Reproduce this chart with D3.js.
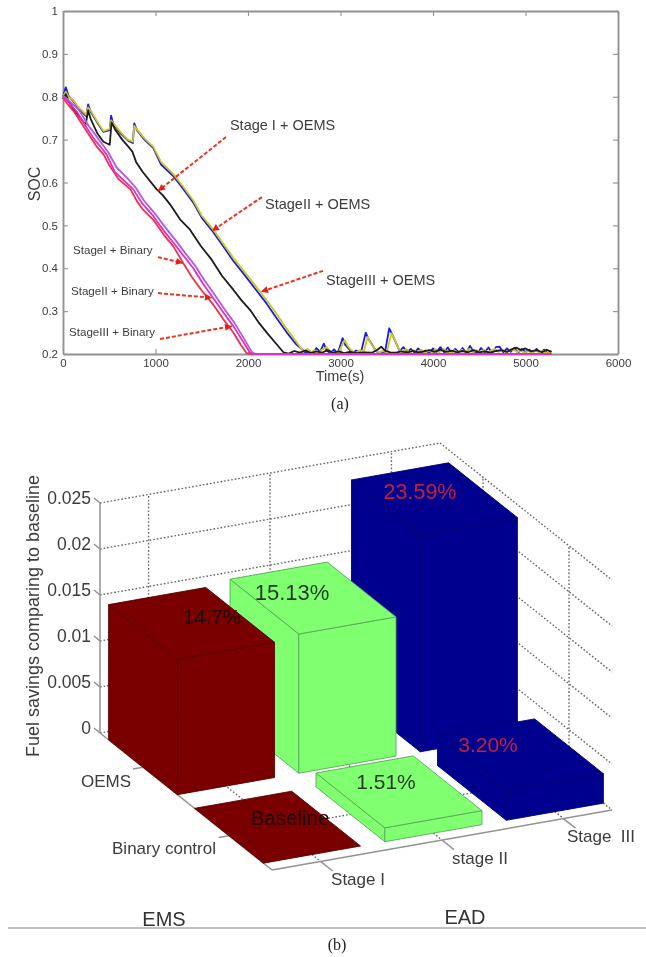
<!DOCTYPE html>
<html>
<head>
<meta charset="utf-8">
<script src="https://cdn.jsdelivr.net/npm/d3@7"></script>
<style>
  html, body { margin: 0; padding: 0; background: #fff; }
  svg { display: block; filter: blur(0.6px); }
  text { font-family: "Liberation Sans", Arial, sans-serif; fill: #3c3c3c; }
  .serif { font-family: "Liberation Serif", serif; fill: #222; }
</style>
</head>
<body>
<svg id="chart" width="646" height="957"></svg>
<script>
// panel (a): SOC against time, [seconds, soc]
const xTicks = [0, 1000, 2000, 3000, 4000, 5000, 6000];
const yTicks = [0.2, 0.3, 0.4, 0.5, 0.6, 0.7, 0.8, 0.9, 1];

const oemsStage1 = [[0,.80],[30,.822],[60,.802],[110,.79],[170,.772],[250,.755],[272,.782],[300,.765],[370,.74],[437,.718],[505,.722],[520,.756],[545,.735],[620,.715],[700,.698],[755,.692],[770,.738],[800,.722],[880,.70],[977,.68],[1060,.642],[1192,.615],[1300,.585],[1409,.553],[1499,.518],[1625,.484],[1730,.452],[1838,.418],[1960,.385],[2092,.348],[2200,.318],[2308,.284],[2420,.25],[2524,.222],[2580,.212],[2620,.203],[2660,.208],[2700,.202],[2740,.214],[2780,.205],[2820,.224],[2850,.208],[2890,.202],[2930,.211],[2970,.201],[3023,.237],[3050,.222],[3090,.212],[3130,.203],[3170,.208],[3220,.202],[3273,.25],[3300,.236],[3340,.222],[3380,.208],[3420,.201],[3480,.203],[3527,.26],[3560,.245],[3600,.226],[3640,.207],[3680,.216],[3720,.204],[3760,.212],[3800,.203],[3840,.213],[3880,.203],[3920,.208],[3960,.202],[4000,.213],[4040,.205],[4080,.216],[4120,.204],[4160,.215],[4200,.203],[4240,.212],[4280,.204],[4320,.214],[4360,.203],[4400,.219],[4440,.205],[4480,.202],[4520,.214],[4560,.204],[4600,.215],[4640,.202],[4680,.216],[4720,.217],[4760,.204],[4800,.213],[4840,.205],[4880,.214],[4920,.203],[4960,.212],[5000,.204],[5040,.21],[5080,.203],[5120,.212],[5160,.203],[5200,.21],[5240,.202],[5280,.207]];
const oemsStage2 = [[0,.80],[30,.812],[60,.80],[110,.792],[170,.775],[250,.758],[272,.775],[300,.768],[370,.742],[437,.72],[505,.725],[520,.745],[545,.738],[620,.718],[700,.70],[755,.695],[770,.732],[800,.724],[880,.703],[977,.683],[1060,.648],[1192,.62],[1300,.59],[1409,.558],[1499,.523],[1625,.49],[1730,.458],[1838,.425],[1960,.392],[2092,.356],[2200,.326],[2308,.294],[2420,.258],[2524,.228],[2600,.206],[2640,.212],[2680,.204],[2720,.209],[2760,.202],[2800,.21],[2850,.216],[2890,.206],[2930,.203],[2980,.205],[3045,.232],[3080,.218],[3120,.208],[3160,.202],[3210,.209],[3250,.204],[3295,.24],[3330,.224],[3370,.212],[3410,.204],[3450,.207],[3500,.204],[3550,.248],[3590,.232],[3630,.212],[3670,.204],[3710,.212],[3750,.203],[3790,.209],[3830,.204],[3870,.21],[3910,.202],[3950,.208],[3990,.204],[4030,.211],[4070,.204],[4110,.212],[4150,.206],[4190,.202],[4230,.209],[4270,.203],[4310,.21],[4350,.205],[4390,.212],[4430,.203],[4470,.209],[4510,.204],[4550,.21],[4590,.203],[4630,.208],[4670,.212],[4710,.205],[4750,.21],[4790,.203],[4830,.208],[4870,.211],[4910,.204],[4950,.209],[4990,.203],[5030,.207],[5070,.202],[5110,.208],[5150,.203],[5190,.207],[5230,.202],[5280,.204]];
const oemsStage3 = [[0,.795],[30,.806],[60,.79],[110,.772],[170,.755],[245,.735],[272,.768],[300,.748],[370,.715],[437,.695],[505,.688],[525,.74],[560,.725],[640,.7],[720,.68],[750,.672],[790,.648],[860,.625],[1013,.584],[1080,.57],[1157,.549],[1265,.514],[1373,.49],[1490,.452],[1607,.42],[1720,.382],[1841,.35],[1930,.325],[2022,.303],[2110,.275],[2203,.25],[2300,.225],[2383,.204],[2440,.201],[2500,.207],[2560,.203],[2620,.208],[2680,.202],[2740,.206],[2800,.203],[2860,.209],[2920,.203],[2980,.206],[3040,.202],[3100,.205],[3180,.202],[3260,.204],[3340,.203],[3400,.21],[3440,.217],[3480,.208],[3540,.204],[3600,.203],[3660,.206],[3720,.203],[3780,.207],[3840,.204],[3900,.206],[3960,.209],[4020,.205],[4080,.21],[4140,.205],[4200,.208],[4260,.204],[4320,.207],[4380,.204],[4440,.209],[4500,.204],[4560,.206],[4620,.203],[4680,.207],[4740,.209],[4800,.205],[4860,.212],[4900,.215],[4950,.209],[5000,.213],[5060,.206],[5120,.209],[5180,.204],[5230,.21],[5280,.205]];
const binaryStage1 = [[0,.797],[60,.78],[120,.765],[240,.725],[300,.705],[360,.685],[440,.665],[500,.64],[600,.608],[730,.584],[800,.556],[868,.536],[976,.513],[1090,.478],[1193,.451],[1300,.412],[1391,.38],[1500,.348],[1625,.315],[1730,.282],[1841,.25],[1920,.222],[1985,.202],[2020,.2],[5280,.2]];
const binaryStage2 = [[0,.80],[70,.785],[150,.765],[258,.727],[340,.70],[400,.685],[472,.665],[560,.625],[680,.60],[760,.584],[860,.55],[976,.522],[1012,.51],[1110,.482],[1193,.46],[1300,.43],[1409,.40],[1510,.365],[1625,.33],[1730,.298],[1841,.265],[1950,.228],[2022,.203],[2060,.2],[5280,.2]];
const binaryStage3 = [[0,.803],[70,.79],[170,.77],[275,.733],[355,.71],[415,.692],[490,.67],[580,.635],[695,.61],[780,.59],[875,.558],[992,.528],[1030,.517],[1125,.49],[1208,.468],[1315,.437],[1422,.408],[1525,.373],[1640,.338],[1745,.305],[1855,.272],[1965,.233],[2040,.205],[2075,.2],[5280,.2]];

// panel (b): fuel savings, one value per stage for each control row
const stages = ["Stage I", "stage II", "Stage  III"];
const controls = ["OEMS", "Binary control"];
const zTicks = [0, 0.005, 0.01, 0.015, 0.02, 0.025];
const oemsSavings = [0.0147, 0.01513, 0.02359];
const binarySavings = [0, 0.00151, 0.0032];
const oemsLabels = ["14.7%", "15.13%", "23.59%"];
const binaryLabels = ["Baseline", "1.51%", "3.20%"];

const svg = d3.select("#chart");
const gray = "#929292";

// ---------- panel (a) ----------
const x = d3.scaleLinear().domain([0, 6000]).range([63, 618]);
const y = d3.scaleLinear().domain([0.2, 1]).range([354, 11]);

const topAx = svg.append("g");
const styleAxis = g => {
    g.selectAll("path").attr("stroke", gray).attr("stroke-width", 1.9);
    g.selectAll("line").attr("stroke", gray).attr("stroke-width", 1.1);
    g.selectAll("text").attr("font-size", 11.5).attr("fill", "#3c3c3c").style("font-family", "'Liberation Sans'");
};
topAx.append("g").attr("transform", "translate(0,354)")
    .call(d3.axisBottom(x).tickValues(xTicks).tickSizeInner(-5).tickSizeOuter(0).tickPadding(5).tickFormat(d3.format("d")))
    .call(styleAxis);
topAx.append("g").attr("transform", "translate(63,0)")
    .call(d3.axisLeft(y).tickValues(yTicks).tickSizeInner(-5).tickSizeOuter(0).tickPadding(5).tickFormat(d3.format("~g")))
    .call(styleAxis);
topAx.append("g").attr("transform", "translate(0,11)")
    .call(d3.axisTop(x).tickValues(xTicks).tickSizeInner(-5).tickSizeOuter(0).tickFormat(""))
    .call(styleAxis);
topAx.append("g").attr("transform", "translate(618,0)")
    .call(d3.axisRight(y).tickValues(yTicks).tickSizeInner(-5).tickSizeOuter(0).tickFormat(""))
    .call(styleAxis);

const socLine = d3.line().x(d => x(d[0])).y(d => y(d[1]));
const socSeries = [
    { data: oemsStage1, color: "#1a1ae6" },
    { data: oemsStage2, color: "#c8c81e" },
    { data: oemsStage3, color: "#1c1c1c" },
    { data: binaryStage1, color: "#f0304a" },
    { data: binaryStage3, color: "#b45ae0" },
    { data: binaryStage2, color: "#e030c8" }
];
svg.append("g").selectAll("path").data(socSeries).enter().append("path")
    .attr("d", d => socLine(d.data))
    .attr("fill", "none")
    .attr("stroke", d => d.color)
    .attr("stroke-width", 1.8)
    .attr("stroke-linejoin", "round");

// callouts, anchored in data units
const callouts = [
    { text: "Stage I + OEMS", size: 14.5, at: [1805, .734], from: [1762, .706], to: [1027, .580] },
    { text: "StageII + OEMS", size: 14.5, at: [2184, .55], from: [2151, .566], to: [1611, .487] },
    { text: "StageIII + OEMS", size: 14.5, at: [2843, .373], from: [2811, .394], to: [2141, .345] },
    { text: "StageI + Binary", size: 11.6, at: [108, .443], from: [1027, .426], to: [1297, .412] },
    { text: "StageII + Binary", size: 11.6, at: [86, .347], from: [1027, .342], to: [1611, .331] },
    { text: "StageIII + Binary", size: 11.6, at: [65, .251], from: [1049, .235], to: [1827, .265] }
];
const notes = svg.append("g");
notes.selectAll("text").data(callouts).enter().append("text")
    .attr("x", d => x(d.at[0])).attr("y", d => y(d.at[1])).attr("dy", ".35em")
    .attr("font-size", d => d.size)
    .text(d => d.text);
notes.selectAll("line").data(callouts).enter().append("line")
    .attr("x1", d => x(d.from[0])).attr("y1", d => y(d.from[1]))
    .attr("x2", d => x(d.to[0])).attr("y2", d => y(d.to[1]))
    .attr("stroke", "#ee3322").attr("stroke-width", 2).attr("stroke-dasharray", "4,2");
notes.selectAll("path").data(callouts).enter().append("path")
    .attr("d", "M0,0L-7,-3.5L-7,3.5Z")
    .attr("fill", "#e0201a")
    .attr("transform", d => {
        const ang = Math.atan2(y(d.to[1]) - y(d.from[1]), x(d.to[0]) - x(d.from[0])) * 180 / Math.PI;
        return "translate(" + x(d.to[0]) + "," + y(d.to[1]) + ") rotate(" + ang + ")";
    });

svg.append("text").attr("transform", "translate(40,184) rotate(-90)")
    .attr("text-anchor", "middle").attr("font-size", 16).text("SOC");
svg.append("text").attr("x", 340).attr("y", 381).attr("text-anchor", "middle").attr("font-size", 14.5).text("Time(s)");
svg.append("text").attr("class", "serif").attr("x", 340).attr("y", 409).attr("text-anchor", "middle").attr("font-size", 16).text("(a)");

// ---------- panel (b): bars on an oblique projection ----------
const stageBand = d3.scaleBand().domain(stages).range([0, 1]).paddingInner(0.2);
const rowBand = d3.scaleBand().domain(controls).range([0.05, 0.95]).paddingInner(0.2);
const zHeight = d3.scaleLinear().domain([0, 0.025]).range([0, 230]);
const stageX = d3.scaleLinear().domain([0, 1]).range([0, 340]);
const stageY = d3.scaleLinear().domain([0, 1]).range([0, -60]);
const rowX = d3.scaleLinear().domain([0, 1]).range([0, 172]);
const rowY = d3.scaleLinear().domain([0, 1]).range([0, 137]);
const project = (u, v, z) => [100 + stageX(u) + rowX(v), 733 + stageY(u) + rowY(v) - zHeight(z)];
const stageMid = s => stageBand(s) + stageBand.bandwidth() / 2;
const rowMid = r => rowBand(r) + rowBand.bandwidth() / 2;

const grid = svg.append("g").attr("fill", "none").attr("stroke", "#666")
    .attr("stroke-width", 1.4).attr("stroke-dasharray", "1.6,2");
const seg = (g, a, b) => g.append("line").attr("x1", a[0]).attr("y1", a[1]).attr("x2", b[0]).attr("y2", b[1]);
zTicks.forEach(z => {
    seg(grid, project(0, 0, z), project(1, 0, z));
    seg(grid, project(1, 0, z), project(1, 1, z));
});
stages.forEach(s => {
    seg(grid, project(stageMid(s), 0, 0), project(stageMid(s), 0, 0.025));
    seg(grid, project(stageMid(s), 0, 0), project(stageMid(s), 1, 0));
});
controls.forEach(r => {
    seg(grid, project(1, rowMid(r), 0), project(1, rowMid(r), 0.025));
    seg(grid, project(0, rowMid(r), 0), project(1, rowMid(r), 0));
});

// solid box edges and ticks
const box = svg.append("g").attr("stroke", gray).attr("stroke-width", 1.5).attr("fill", "none");
seg(box, project(0, 0, 0), project(0, 0, 0.025));
seg(box, project(0, 0, 0), project(0, 1, 0));
seg(box, project(0, 1, 0), project(1, 1, 0));
zTicks.forEach(z => {
    const p = project(0, 0, z);
    seg(box, [p[0] - 6, p[1] - 5], p);
});
stages.forEach(s => seg(box, project(stageMid(s), 1, 0), project(stageMid(s), 1.07, 0)));
controls.forEach(r => seg(box, project(0, rowMid(r), 0), project(-0.03, rowMid(r), 0)));

// back to front: far row first, and within a row the far stage first
const stageColors = ["#7a0000", "#80ff70", "#00008f"];
const stageEdges = ["#560000", "#57a957", "#000070"];
const cells = [];
[oemsSavings, binarySavings].forEach((vals, r) => {
    [2, 1, 0].forEach(i => cells.push({ stage: stages[i], row: controls[r], value: vals[i], fill: stageColors[i], edge: stageEdges[i] }));
});
const polygon = pts => "M" + pts.map(p => p.join(",")).join("L") + "Z";
const bars = svg.append("g").attr("stroke-linejoin", "round");
cells.forEach(c => {
    const u0 = stageBand(c.stage), u1 = u0 + stageBand.bandwidth();
    const v0 = rowBand(c.row), v1 = v0 + rowBand.bandwidth();
    const faces = c.value > 0 ? [
        [project(u0, v0, 0), project(u0, v1, 0), project(u0, v1, c.value), project(u0, v0, c.value)],
        [project(u0, v1, 0), project(u1, v1, 0), project(u1, v1, c.value), project(u0, v1, c.value)],
        [project(u0, v0, c.value), project(u1, v0, c.value), project(u1, v1, c.value), project(u0, v1, c.value)]
    ] : [[project(u0, v0, 0), project(u1, v0, 0), project(u1, v1, 0), project(u0, v1, 0)]];
    bars.append("g").selectAll("path").data(faces).enter().append("path")
        .attr("d", polygon)
        .attr("fill", c.fill)
        .attr("stroke", c.edge)
        .attr("stroke-width", 0.9);
});

// value labels
const valueNotes = [
    { text: oemsLabels[0], x: 212, y: 617, size: 20.5, fill: "#1f0808" },
    { text: oemsLabels[1], x: 292, y: 592, size: 22, fill: "#1f3a1f" },
    { text: oemsLabels[2], x: 420, y: 491, size: 21.5, fill: "#c0203a" },
    { text: binaryLabels[0], x: 290, y: 818, size: 20.5, fill: "#1f0505" },
    { text: binaryLabels[1], x: 386, y: 782, size: 21, fill: "#1f3a1f" },
    { text: binaryLabels[2], x: 488, y: 745, size: 21, fill: "#c0203a" }
];
svg.append("g").selectAll("text").data(valueNotes).enter().append("text")
    .attr("x", d => d.x).attr("y", d => d.y).attr("dy", ".35em")
    .attr("text-anchor", "middle")
    .attr("font-size", d => d.size)
    .style("fill", d => d.fill)
    .text(d => d.text);

// axis text
const zFmt = d3.format("~g");
svg.append("g").selectAll("text").data(zTicks).enter().append("text")
    .attr("x", 91).attr("y", d => project(0, 0, d)[1] - 5).attr("dy", ".35em")
    .attr("text-anchor", "end").attr("font-size", 17.5)
    .text(d => zFmt(d));
svg.append("text").attr("transform", "translate(33,616) rotate(-90)").attr("dy", ".35em")
    .attr("text-anchor", "middle").attr("font-size", 18).text("Fuel savings comparing to baseline");

const tickText = [
    { text: controls[0], x: 106, y: 781, size: 17 },
    { text: controls[1], x: 164, y: 848, size: 17 },
    { text: stages[0], x: 358, y: 879, size: 17 },
    { text: stages[1], x: 480, y: 858, size: 17 },
    { text: stages[2], x: 601, y: 836, size: 17 }
];
svg.append("g").selectAll("text").data(tickText).enter().append("text")
    .attr("x", d => d.x).attr("y", d => d.y).attr("dy", ".35em")
    .attr("text-anchor", "middle").attr("font-size", d => d.size)
    .style("white-space", "pre")
    .text(d => d.text);

svg.append("text").attr("x", 164).attr("y", 919).attr("dy", ".35em").attr("text-anchor", "middle").attr("font-size", 20).style("fill", "#333").text("EMS");
svg.append("text").attr("x", 465).attr("y", 917).attr("dy", ".35em").attr("text-anchor", "middle").attr("font-size", 20).style("fill", "#333").text("EAD");
svg.append("line").attr("x1", 8).attr("x2", 646).attr("y1", 928).attr("y2", 928).attr("stroke", "#aaa").attr("stroke-width", 1.4);
svg.append("text").attr("class", "serif").attr("x", 337).attr("y", 950).attr("text-anchor", "middle").attr("font-size", 16).text("(b)");
</script>
</body>
</html>
